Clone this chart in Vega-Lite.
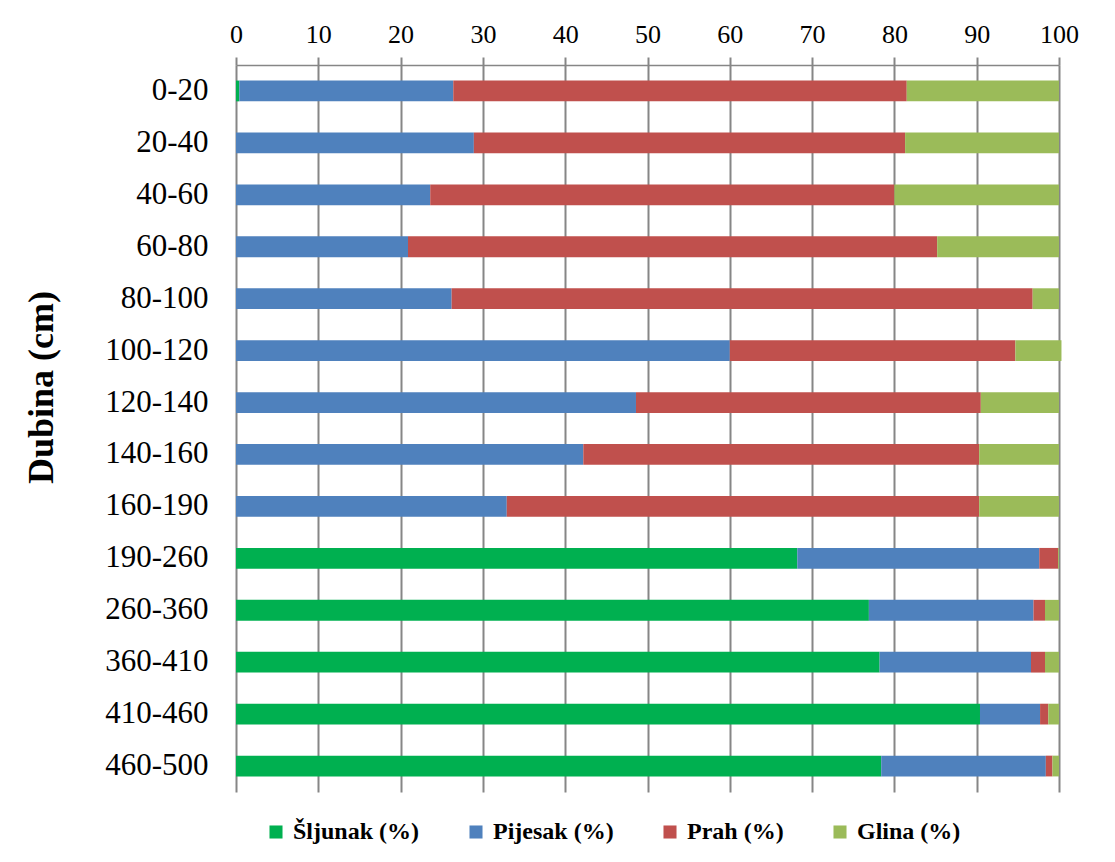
{
  "$schema": "https://vega.github.io/schema/vega-lite/v6.json",
  "width": 823,
  "height": 727,
  "autosize": {"type": "none"},
  "padding": {"left": 236, "top": 65, "right": 56, "bottom": 70},
  "background": "white",
  "config": {
    "view": {"stroke": null},
    "font": "Liberation Serif"
  },
  "data": {
    "values": [
      {"d": "0-20", "k": "Šljunak (%)", "o": 1, "v": 0.4},
      {"d": "0-20", "k": "Pijesak (%)", "o": 2, "v": 26.0},
      {"d": "0-20", "k": "Prah (%)", "o": 3, "v": 55.1},
      {"d": "0-20", "k": "Glina (%)", "o": 4, "v": 18.5},
      {"d": "20-40", "k": "Pijesak (%)", "o": 2, "v": 28.9},
      {"d": "20-40", "k": "Prah (%)", "o": 3, "v": 52.4},
      {"d": "20-40", "k": "Glina (%)", "o": 4, "v": 18.7},
      {"d": "40-60", "k": "Pijesak (%)", "o": 2, "v": 23.6},
      {"d": "40-60", "k": "Prah (%)", "o": 3, "v": 56.4},
      {"d": "40-60", "k": "Glina (%)", "o": 4, "v": 20.0},
      {"d": "60-80", "k": "Pijesak (%)", "o": 2, "v": 20.9},
      {"d": "60-80", "k": "Prah (%)", "o": 3, "v": 64.3},
      {"d": "60-80", "k": "Glina (%)", "o": 4, "v": 14.8},
      {"d": "80-100", "k": "Pijesak (%)", "o": 2, "v": 26.2},
      {"d": "80-100", "k": "Prah (%)", "o": 3, "v": 70.6},
      {"d": "80-100", "k": "Glina (%)", "o": 4, "v": 3.2},
      {"d": "100-120", "k": "Pijesak (%)", "o": 2, "v": 60.0},
      {"d": "100-120", "k": "Prah (%)", "o": 3, "v": 34.7},
      {"d": "100-120", "k": "Glina (%)", "o": 4, "v": 5.6},
      {"d": "120-140", "k": "Pijesak (%)", "o": 2, "v": 48.6},
      {"d": "120-140", "k": "Prah (%)", "o": 3, "v": 41.9},
      {"d": "120-140", "k": "Glina (%)", "o": 4, "v": 9.5},
      {"d": "140-160", "k": "Pijesak (%)", "o": 2, "v": 42.2},
      {"d": "140-160", "k": "Prah (%)", "o": 3, "v": 48.1},
      {"d": "140-160", "k": "Glina (%)", "o": 4, "v": 9.7},
      {"d": "160-190", "k": "Pijesak (%)", "o": 2, "v": 32.9},
      {"d": "160-190", "k": "Prah (%)", "o": 3, "v": 57.4},
      {"d": "160-190", "k": "Glina (%)", "o": 4, "v": 9.7},
      {"d": "190-260", "k": "Šljunak (%)", "o": 1, "v": 68.2},
      {"d": "190-260", "k": "Pijesak (%)", "o": 2, "v": 29.4},
      {"d": "190-260", "k": "Prah (%)", "o": 3, "v": 2.3},
      {"d": "190-260", "k": "Glina (%)", "o": 4, "v": 0.1},
      {"d": "260-360", "k": "Šljunak (%)", "o": 1, "v": 76.9},
      {"d": "260-360", "k": "Pijesak (%)", "o": 2, "v": 20.0},
      {"d": "260-360", "k": "Prah (%)", "o": 3, "v": 1.4},
      {"d": "260-360", "k": "Glina (%)", "o": 4, "v": 1.7},
      {"d": "360-410", "k": "Šljunak (%)", "o": 1, "v": 78.2},
      {"d": "360-410", "k": "Pijesak (%)", "o": 2, "v": 18.4},
      {"d": "360-410", "k": "Prah (%)", "o": 3, "v": 1.7},
      {"d": "360-410", "k": "Glina (%)", "o": 4, "v": 1.7},
      {"d": "410-460", "k": "Šljunak (%)", "o": 1, "v": 90.4},
      {"d": "410-460", "k": "Pijesak (%)", "o": 2, "v": 7.3},
      {"d": "410-460", "k": "Prah (%)", "o": 3, "v": 1.0},
      {"d": "410-460", "k": "Glina (%)", "o": 4, "v": 1.3},
      {"d": "460-500", "k": "Šljunak (%)", "o": 1, "v": 78.4},
      {"d": "460-500", "k": "Pijesak (%)", "o": 2, "v": 20.0},
      {"d": "460-500", "k": "Prah (%)", "o": 3, "v": 0.8},
      {"d": "460-500", "k": "Glina (%)", "o": 4, "v": 0.8}
    ]
  },
  "mark": {"type": "bar"},
  "encoding": {
    "y": {
      "field": "d",
      "type": "nominal",
      "sort": null,
      "scale": {"paddingInner": 0.6, "paddingOuter": 0.3},
      "axis": {
        "title": "Dubina (cm)",
        "titleFont": "Liberation Serif",
        "titleFontSize": 36,
        "titleFontWeight": "bold",
        "titleColor": "black",
        "titleX": -195,
        "titleY": 322,
        "titleAngle": 270,
        "titleBaseline": "middle",
        "titleAlign": "center",
        "labelFont": "Liberation Serif",
        "labelFontSize": 31,
        "labelColor": "black",
        "labelPadding": 28,
        "ticks": false,
        "domain": false,
        "grid": false
      }
    },
    "x": {
      "field": "v",
      "type": "quantitative",
      "stack": "zero",
      "scale": {"domain": [0, 100], "nice": false},
      "axis": {
        "orient": "top",
        "title": null,
        "values": [0, 10, 20, 30, 40, 50, 60, 70, 80, 90, 100],
        "labelFont": "Liberation Serif",
        "labelFontSize": 26,
        "labelColor": "black",
        "labelPadding": 10,
        "labelFlush": false,
        "labelOverlap": false,
        "tickSize": 8,
        "tickColor": "#868686",
        "tickWidth": 2,
        "domainColor": "#868686",
        "domainWidth": 1.5,
        "grid": true,
        "gridColor": "#868686",
        "gridWidth": 2,
        "gridOpacity": 1
      }
    },
    "color": {
      "field": "k",
      "type": "nominal",
      "scale": {
        "domain": ["Šljunak (%)", "Pijesak (%)", "Prah (%)", "Glina (%)"],
        "range": ["#00B050", "#4F81BD", "#C0504D", "#9BBB59"]
      },
      "legend": {
        "title": null,
        "orient": "none",
        "legendX": 28,
        "legendY": 755,
        "direction": "horizontal",
        "symbolType": "square",
        "symbolSize": 170,
        "symbolStrokeWidth": 0,
        "symbolOpacity": 1,
        "labelFont": "Liberation Serif",
        "labelFontSize": 24,
        "labelFontWeight": "bold",
        "labelColor": "black",
        "labelOffset": 5,
        "columnPadding": 44
      }
    },
    "order": {"field": "o", "type": "quantitative"}
  }
}
